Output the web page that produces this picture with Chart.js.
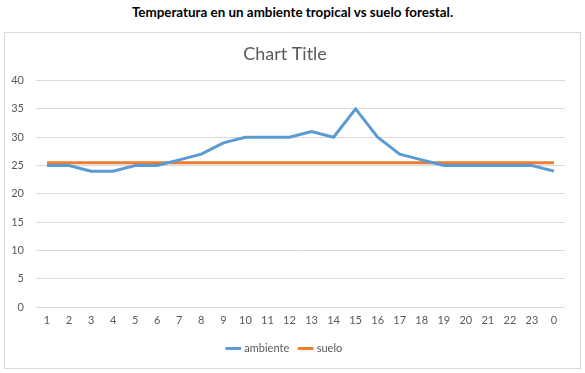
<!DOCTYPE html>
<html>
<head>
<meta charset="utf-8">
<script src="https://cdn.jsdelivr.net/npm/chart.js@4/dist/chart.umd.min.js"></script>
<style>
  body { margin: 0; background: #fff; font-family: Lato, "Open Sans", sans-serif; }
  #heading { position: absolute; left: 0; top: 4px; width: 585px; text-align: center;
             font-weight: bold; font-size: 13.4px; color: #000; }
  #box { position: absolute; left: 4px; top: 32px; width: 575px; height: 335px;
         border: 1px solid #d9d9d9; }
</style>
</head>
<body>
<div id="heading">Temperatura en un ambiente tropical vs suelo forestal.</div>
<div id="box"><canvas id="line_chart" width="575" height="335"></canvas></div>
<script>
var horas = ['1','2','3','4','5','6','7','8','9','10','11','12','13','14','15','16','17','18','19','20','21','22','23','0'];
var ambiente = [25, 25, 24, 24, 25, 25, 26, 27, 29, 30, 30, 30, 31, 30, 35, 30, 27, 26, 25, 25, 25, 25, 25, 24];
var suelo = [25.5, 25.5, 25.5, 25.5, 25.5, 25.5, 25.5, 25.5, 25.5, 25.5, 25.5, 25.5, 25.5, 25.5, 25.5, 25.5, 25.5, 25.5, 25.5, 25.5, 25.5, 25.5, 25.5, 25.5];

var gris = '#595959';
var fuente = 'Lato, "Open Sans", sans-serif';

var lineData = {
    labels: horas,
    datasets: [
        {
            label: 'ambiente',
            borderColor: '#5b9bd5',
            backgroundColor: '#5b9bd5',
            borderWidth: 3,
            pointRadius: 0,
            data: ambiente
        },
        {
            label: 'suelo',
            borderColor: '#ed7d31',
            backgroundColor: '#ed7d31',
            borderWidth: 3,
            pointRadius: 0,
            data: suelo
        }
    ]
};

var lineOptions = {
    responsive: false,
    animation: false,
    layout: { padding: { left: 0, right: 15, top: 0, bottom: 4 } },
    plugins: {
        title: {
            display: true,
            text: 'Chart Title',
            color: gris,
            font: { family: fuente, size: 18, weight: 'normal' },
            padding: { top: 10, bottom: 16 }
        },
        legend: {
            position: 'bottom',
            labels: {
                usePointStyle: true,
                pointStyle: 'line',
                boxWidth: 26,
                color: gris,
                font: { family: fuente, size: 11 },
                padding: 11
            }
        },
        tooltip: { enabled: false }
    },
    scales: {
        x: {
            offset: true,
            grid: { display: false },
            border: { display: false },
            ticks: { color: gris, font: { family: fuente, size: 11 }, maxRotation: 0, autoSkip: false, padding: -1 },
            afterFit: function(scale) { scale.height = 25; }
        },
        y: {
            min: 0,
            max: 40,
            ticks: { stepSize: 5, color: gris, font: { family: fuente, size: 11 }, padding: 12 },
            grid: { color: '#d9d9d9', drawTicks: false },
            border: { display: false },
            afterFit: function(scale) { scale.width = 31; }
        }
    }
};

var ctx = document.getElementById('line_chart').getContext('2d');
new Chart(ctx, { type: 'line', data: lineData, options: lineOptions });
</script>
</body>
</html>
